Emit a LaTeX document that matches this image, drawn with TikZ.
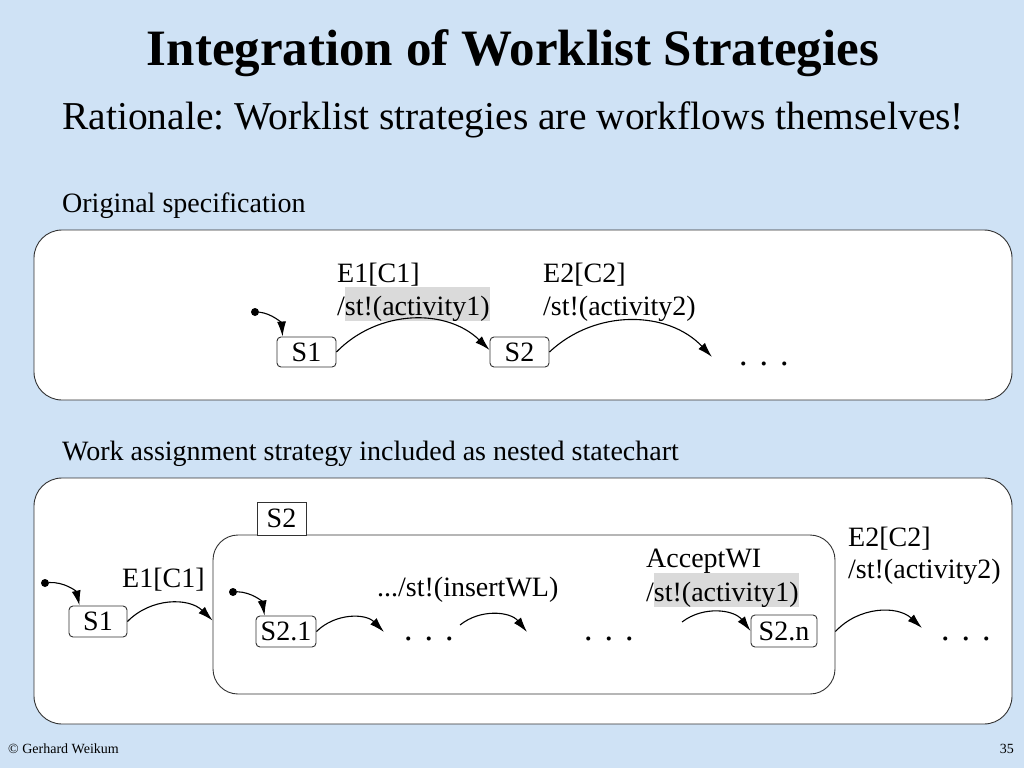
\documentclass[tikz,border=0pt]{standalone}
\usepackage{fontspec}
\setmainfont{Liberation Serif}
\usetikzlibrary{arrows.meta}
\frenchspacing
\definecolor{bgblue}{RGB}{207,226,245}
\definecolor{hlgray}{RGB}{218,218,218}
\definecolor{framegray}{RGB}{50,50,50}
\newcommand{\hilite}[1]{{\setlength{\fboxsep}{0pt}\colorbox{hlgray}{\rule[-4pt]{0pt}{32pt}#1}}}
\newcommand{\dotsx}{{\fontsize{34}{34}\selectfont.\hspace{12pt}.\hspace{12pt}.}}
\newcommand{\lblfont}{\fontsize{28}{33}\selectfont}
\tikzset{
  lbl/.style={anchor=base west,inner sep=0pt,font=\lblfont},
  state/.style={draw=framegray,line width=0.9pt,rounded corners=4pt,fill=white,
    minimum height=30pt,minimum width=59pt,inner sep=0pt,font=\lblfont},
  trans/.style={line width=1.1pt,-{Latex[length=15pt,width=9pt]}},
  initdot/.style={circle,fill,inner sep=0pt,minimum size=8pt}
}
\begin{document}
\begin{tikzpicture}[x=1pt,y=1pt]
		\useasboundingbox (0,0) rectangle (1024,-768);
		\fill[bgblue] (0,0) rectangle (1024,-768);
		\node[anchor=base] (title) at (513,-65) {\fontsize{51}{60}\selectfont\bfseries Integration of Worklist Strategies};
		\node[anchor=base west,inner sep=0pt] (rationale) at (62,-129) {\fontsize{39.5}{46}\selectfont Rationale: Worklist strategies are workflows themselves!};
		\node[lbl] (orig) at (62,-212) {Original specification};
		\node[lbl] (nested) at (62,-460) {Work assignment strategy included as nested statechart};
		% original specification
		\draw[draw=framegray,line width=0.9pt,fill=white,rounded corners=28pt] (34,-230) rectangle (1012,-400);
		\node[state] (s1a) at (306.5,-352) {S1};
		\node[state] (s2a) at (519.5,-352) {S2};
		\node[initdot] (init1) at (255,-312) {};
		\node[lbl] (e1a) at (337,-282) {E1[C1]};
		\node[lbl] (act1a) at (337,-315) {/\hilite{st!(activity1)}};
		\node[lbl] (e2a) at (543,-282) {E2[C2]};
		\node[lbl] (act2a) at (543,-315) {/st!(activity2)};
		\node[lbl] (dots1) at (739,-365) {\dotsx};
		\coordinate (end1) at (712,-357);
		\draw[trans] (init1) to[bend left=40] ([xshift=6pt]s1a.north west);
		\draw[trans] (s1a.east) to[bend left=45] ([yshift=2pt]s2a.west);
		\draw[trans] (s2a.east) to[bend left=45] (end1);
		% nested statechart
		\draw[draw=framegray,line width=0.9pt,fill=white,rounded corners=28pt] (34,-478) rectangle (1012,-724);
		\node[draw=framegray,line width=0.9pt,rounded corners=25pt,minimum width=622pt,minimum height=159pt] (s2in) at (524,-614.5) {};
		\node[draw=framegray,line width=0.9pt,fill=white,minimum width=49pt,minimum height=33pt,inner sep=0pt,font=\lblfont] (s2tab) at (281.5,-518.5) {S2};
		\node[state,minimum width=58pt,minimum height=31pt] (s1b) at (98,-621.5) {S1};
		\node[state,minimum width=60pt,minimum height=31pt] (s21) at (286,-631.5) {S2.1};
		\node[state,minimum width=66pt,minimum height=32pt] (s2n) at (784,-631) {\raisebox{-5pt}{S2.n}};
		\node[initdot] (init2) at (45,-583) {};
		\node[initdot] (init3) at (233,-592) {};
		\node[lbl] (e1b) at (122,-587) {E1[C1]};
		\node[lbl] (insert) at (377,-596) {.../st!(insertWL)};
		\node[lbl] (accept) at (646,-567) {AcceptWI};
		\node[lbl] (act1b) at (646,-601) {/\hilite{st!(activity1)}};
		\node[lbl] (e2b) at (848,-546) {E2[C2]};
		\node[lbl] (act2b) at (848,-578) {/st!(activity2)};
		\node[lbl] (dots2) at (404,-640) {\dotsx};
		\node[lbl] (dots3) at (584,-640) {\dotsx};
		\node[lbl] (dots4) at (941,-640) {\dotsx};
		\coordinate (end2) at (384,-632);
		\coordinate (start3) at (460,-625);
		\coordinate (end3) at (527,-632);
		\coordinate (start4) at (682,-622);
		\coordinate (end4) at (922,-628);
		\draw[trans] (init2) to[bend left=40] ([xshift=11pt]s1b.north west);
		\draw[trans] (s1b.east) to[bend left=45] ([yshift=-6pt]s2in.west);
		\draw[trans] (init3) to[bend left=40] ([xshift=9pt]s21.north west);
		\draw[trans] (s21.east) to[bend left=45] (end2);
		\draw[trans] (start3) to[bend left=45] (end3);
		\draw[trans] (start4) to[bend left=45] (s2n.west);
		\draw[trans] ([yshift=-17pt]s2in.east) to[bend left=45] (end4);
		% footer
		\node[anchor=base west,inner sep=0pt] (copy) at (8,-753) {\fontsize{14}{16}\selectfont © Gerhard Weikum};
		\node[anchor=base east,inner sep=0pt] (page) at (1014,-753) {\fontsize{14}{16}\selectfont 35};
	\end{tikzpicture}
\end{document}
